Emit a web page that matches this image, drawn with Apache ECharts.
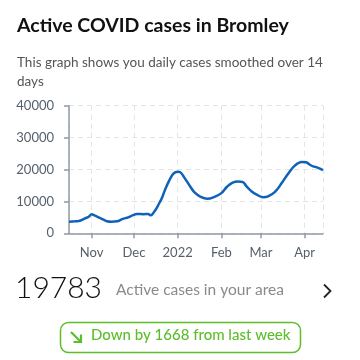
<!DOCTYPE html>
<html>
<head>
<meta charset="utf-8">
<script src="https://cdn.jsdelivr.net/npm/echarts@6/dist/echarts.min.js"></script>
<style>
html,body{margin:0;padding:0;background:#fff;}
#chart{width:360px;height:360px;}
</style>
</head>
<body>
<div id="chart"></div>
<script>
// ---- data ----
const dates = [
  '2021-10-16','2021-10-20','2021-10-23','2021-10-27','2021-10-30',
  '2021-11-01','2021-11-03','2021-11-06','2021-11-09','2021-11-12',
  '2021-11-15','2021-11-19','2021-11-23','2021-11-27','2021-11-30',
  '2021-12-03','2021-12-08','2021-12-11','2021-12-13','2021-12-15',
  '2021-12-17','2021-12-19','2021-12-21','2021-12-23','2021-12-26',
  '2021-12-29','2022-01-01','2022-01-03','2022-01-06','2022-01-10',
  '2022-01-13','2022-01-17','2022-01-22','2022-01-27','2022-02-01',
  '2022-02-05','2022-02-09','2022-02-13','2022-02-16','2022-02-19',
  '2022-02-22','2022-02-26','2022-03-03','2022-03-06','2022-03-11',
  '2022-03-16','2022-03-20','2022-03-25','2022-03-30','2022-04-02',
  '2022-04-05','2022-04-07','2022-04-10','2022-04-14'
];
const activeCases = [
  3640, 3750, 3850, 4600, 5200,
  5950, 5600, 5000, 4400, 3800,
  3650, 3750, 4500, 5000, 5600,
  6050, 6000, 6050, 5650, 6500,
  7800, 9500, 11200, 13600, 16500,
  18700, 19300, 19100, 17300, 14600,
  12800, 11500, 10800, 11400, 12600,
  14600, 15900, 16200, 16100, 14600,
  13300, 12100, 11300, 11600, 13000,
  15900, 18500, 21200, 22350, 22250,
  21400, 21000, 20600, 19800
];
const monthLabels = ['2022','Feb','Mar','Apr','May','Jun','Jul','Aug','Sep','Oct','Nov','Dec'];
const yTicks = [0, 10000, 20000, 30000, 40000];
const titleText = 'Active COVID cases in Bromley';
const subtitleText = 'This graph shows you daily cases smoothed over 14\ndays';
const currentValue = '19783';
const currentLabel = 'Active cases in your area';
const changeText = 'Down by 1668 from last week';

const green = '#5cbf2a';
const chart = echarts.init(document.getElementById('chart'), null, {renderer:'canvas'});
const DAY = 86400000;

chart.setOption({
  animation: false,
  grid: {left: 69, right: 37, top: 105.7, bottom: 126.7, containLabel: false},
  xAxis: {
    type: 'time',
    min: '2021-10-16',
    max: '2022-04-14',
    minInterval: 28 * DAY,
    maxInterval: 31 * DAY,
    axisLine: {show: true, lineStyle: {color: '#8e9ba6', width: 1.5}},
    axisTick: {show: true, length: 5, lineStyle: {color: '#8e9ba6', width: 1.5}},
    axisLabel: {
      margin: 13,
      color: '#56606a',
      fontSize: 13,
      fontFamily: 'Lato',
      formatter: function (v) {
        const d = new Date(v);
        return monthLabels[d.getMonth()];
      }
    },
    splitLine: {show: true, lineStyle: {color: '#e4e4e4', type: [5, 4], width: 1}}
  },
  yAxis: {
    type: 'value',
    min: yTicks[0],
    max: yTicks[yTicks.length - 1],
    interval: 10000,
    axisLine: {show: true, lineStyle: {color: '#8e9ba6', width: 1.5}},
    axisTick: {show: true, length: 5, lineStyle: {color: '#8e9ba6', width: 1.5}},
    axisLabel: {margin: 15, color: '#56606a', fontSize: 13, fontFamily: 'Lato',
      formatter: function (v) { return String(v); }},
    splitLine: {show: true, lineStyle: {color: '#e4e4e4', type: [5, 4], width: 1}}
  },
  series: [{
    type: 'line',
    data: dates.map((d, i) => [d, activeCases[i]]),
    showSymbol: false,
    smooth: 0.4,
    lineStyle: {color: '#0f62b8', width: 2.5},
    itemStyle: {color: '#0f62b8'}
  }],
  graphic: [
    {type: 'text', left: 17, top: 16, style: {text: titleText, font: 'bold 19.5px Lato', fill: '#111'}},
    {type: 'text', left: 17, top: 53, style: {text: subtitleText, font: '13.5px Lato', fill: '#555', lineHeight: 19}},
    {type: 'text', left: 15, top: 273, style: {text: currentValue, font: '300 30px Lato', fill: '#111'}},
    {type: 'text', left: 116, top: 282, style: {text: currentLabel, font: '15.5px Lato', fill: '#8a8a8a'}},
    {type: 'polyline', shape: {points: [[324, 284.5], [330.5, 291], [324, 297.5]]}, style: {stroke: '#222', lineWidth: 1.8, fill: null}},
    {type: 'rect', shape: {x: 60.5, y: 322.5, width: 240, height: 30, r: 8}, style: {stroke: green, lineWidth: 1.5, fill: '#fff'}},
    {type: 'line', shape: {x1: 71, y1: 332, x2: 80.5, y2: 341.5}, style: {stroke: green, lineWidth: 2.2}},
    {type: 'polyline', shape: {points: [[81, 334.5], [81, 342], [73.5, 342]]}, style: {stroke: green, lineWidth: 2.2, fill: null}},
    {type: 'text', left: 91, top: 328, style: {text: changeText, font: '500 15px Lato', fill: green}}
  ]
});
</script>
</body>
</html>
